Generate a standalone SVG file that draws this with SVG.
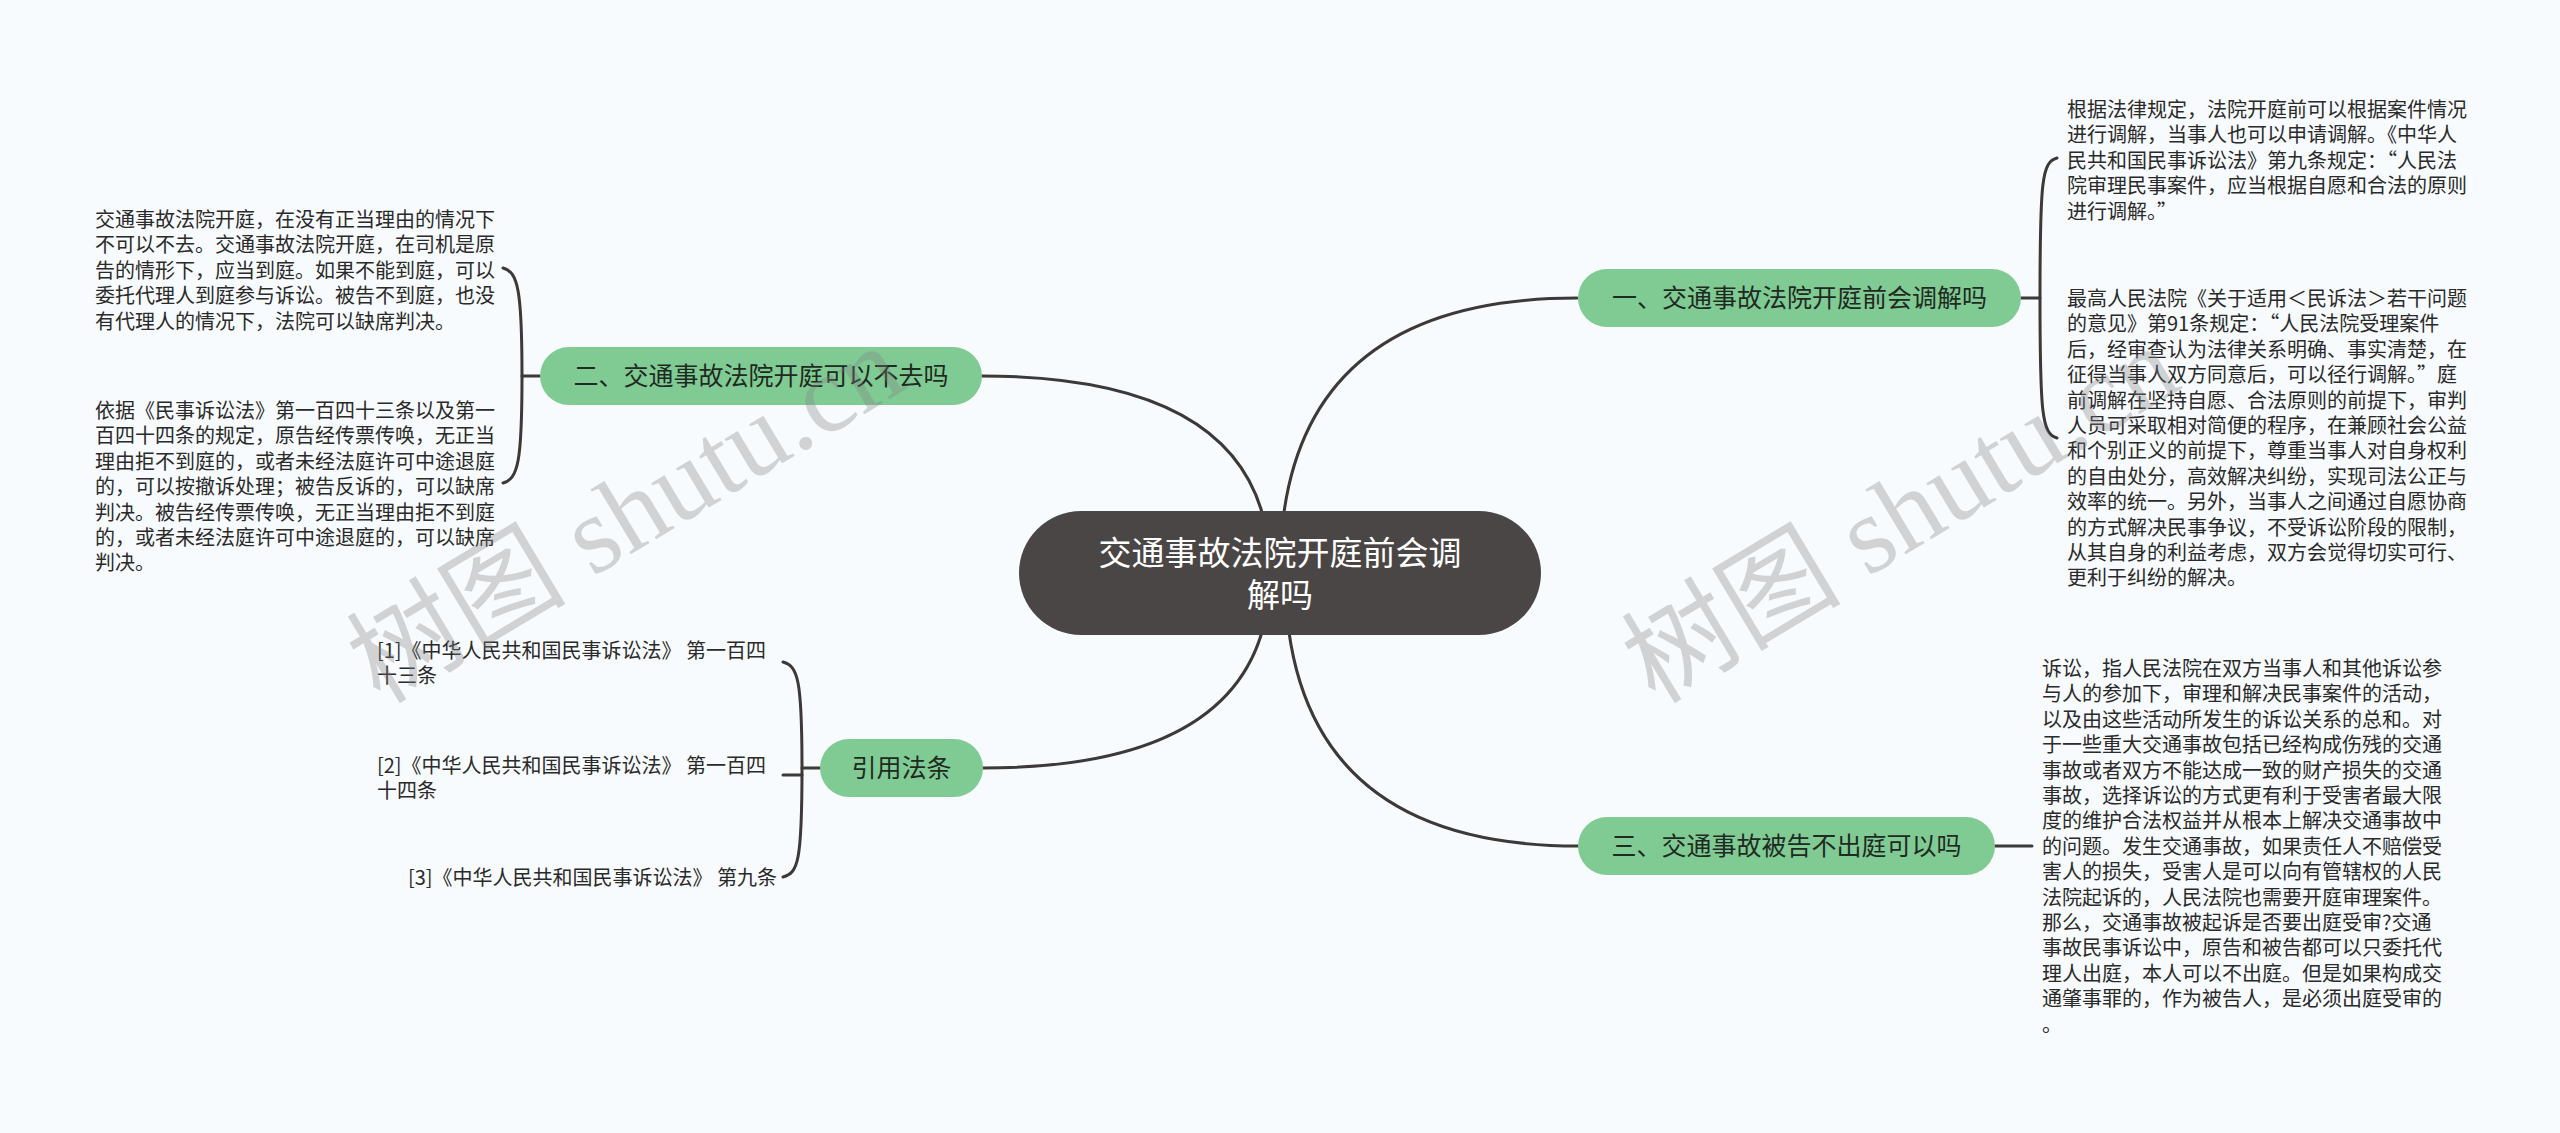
<svg xmlns="http://www.w3.org/2000/svg" width="2560" height="1133" viewBox="0 0 2560 1133">
<style>
.bg{fill:#f8fbfd}
.root{fill:#4b4646}
.rootText{fill:#ffffff;font-family:"Noto Sans CJK SC","Noto Sans",sans-serif;font-size:33px;text-anchor:middle}
.branch{fill:#80cb94}
.branchText{fill:#1f2a22;font-family:"Noto Sans CJK SC","Noto Sans",sans-serif;font-size:25px;text-anchor:middle}
.leaf{fill:#2a2a2a;font-family:"Noto Sans CJK SC","Noto Sans",sans-serif;font-size:20px}
.link{fill:none;stroke:#3d3939;stroke-width:3;stroke-linecap:round}
.wm{fill:#808080;fill-opacity:0.33;font-size:110px}
</style>
<rect class="bg" x="0" y="0" width="2560" height="1133"/>
<g id="connectors">
<path class="link" d="M1280 572 Q1280 298 1577 298"/>
<path class="link" d="M1270 572 Q1270 376 981 376"/>
<path class="link" d="M1270 572 Q1270 768 983 768"/>
<path class="link" d="M1285 572 Q1285 846 1578 846"/>
<path class="link" d="M2021 298 L2040 298"/>
<path class="link" d="M2057 158 C2042 162 2040 180 2040 298 C2040 414 2042 434 2057 438"/>
<path class="link" d="M1995 846 L2032 846"/>
<path class="link" d="M540 376 L522 376"/>
<path class="link" d="M503 268 C518 272 522 290 522 376 C522 462 518 479 503 483"/>
<path class="link" d="M820 768 L802 768"/>
<path class="link" d="M783 662 C798 666 802 680 802 768 C802 862 798 873 783 877"/>
<path class="link" d="M802 775 L783 775"/>
</g>
<g id="root">
<rect class="root" x="1019" y="511" width="522" height="124" rx="62"/>
<text class="rootText" x="1280" y="565">交通事故法院开庭前会调</text>
<text class="rootText" x="1280" y="607">解吗</text>
</g>
<g id="b1">
<rect class="branch" x="1578" y="269" width="443" height="58" rx="29"/>
<text class="branchText" x="1799.5" y="307">一、交通事故法院开庭前会调解吗</text>
</g>
<g id="b2">
<rect class="branch" x="540" y="347" width="442" height="58" rx="29"/>
<text class="branchText" x="761" y="385">二、交通事故法院开庭可以不去吗</text>
</g>
<g id="b3">
<rect class="branch" x="1578" y="817" width="417" height="58" rx="29"/>
<text class="branchText" x="1786.5" y="855">三、交通事故被告不出庭可以吗</text>
</g>
<g id="b4">
<rect class="branch" x="820" y="739" width="163" height="58" rx="29"/>
<text class="branchText" x="901.5" y="777">引用法条</text>
</g>
<g id="leaf1a">
<text class="leaf">
<tspan x="2067" y="117">根据法律规定，法院开庭前可以根据案件情况</tspan>
<tspan x="2067" y="142.4">进行调解，当事人也可以申请调解。《中华人</tspan>
<tspan x="2067" y="167.8">民共和国民事诉讼法》第九条规定：“人民法</tspan>
<tspan x="2067" y="193.2">院审理民事案件，应当根据自愿和合法的原则</tspan>
<tspan x="2067" y="218.6">进行调解。”</tspan>
</text>
</g>
<g id="leaf1b">
<text class="leaf">
<tspan x="2067" y="306">最高人民法院《关于适用＜民诉法＞若干问题</tspan>
<tspan x="2067" y="331.4">的意见》第91条规定：“人民法院受理案件</tspan>
<tspan x="2067" y="356.8">后，经审查认为法律关系明确、事实清楚，在</tspan>
<tspan x="2067" y="382.2">征得当事人双方同意后，可以径行调解。”庭</tspan>
<tspan x="2067" y="407.6">前调解在坚持自愿、合法原则的前提下，审判</tspan>
<tspan x="2067" y="433">人员可采取相对简便的程序，在兼顾社会公益</tspan>
<tspan x="2067" y="458.4">和个别正义的前提下，尊重当事人对自身权利</tspan>
<tspan x="2067" y="483.8">的自由处分，高效解决纠纷，实现司法公正与</tspan>
<tspan x="2067" y="509.2">效率的统一。另外，当事人之间通过自愿协商</tspan>
<tspan x="2067" y="534.6">的方式解决民事争议，不受诉讼阶段的限制，</tspan>
<tspan x="2067" y="560">从其自身的利益考虑，双方会觉得切实可行、</tspan>
<tspan x="2067" y="585.4">更利于纠纷的解决。</tspan>
</text>
</g>
<g id="leaf3">
<text class="leaf">
<tspan x="2042" y="676">诉讼，指人民法院在双方当事人和其他诉讼参</tspan>
<tspan x="2042" y="701.4">与人的参加下，审理和解决民事案件的活动，</tspan>
<tspan x="2042" y="726.8">以及由这些活动所发生的诉讼关系的总和。对</tspan>
<tspan x="2042" y="752.2">于一些重大交通事故包括已经构成伤残的交通</tspan>
<tspan x="2042" y="777.6">事故或者双方不能达成一致的财产损失的交通</tspan>
<tspan x="2042" y="803">事故，选择诉讼的方式更有利于受害者最大限</tspan>
<tspan x="2042" y="828.4">度的维护合法权益并从根本上解决交通事故中</tspan>
<tspan x="2042" y="853.8">的问题。发生交通事故，如果责任人不赔偿受</tspan>
<tspan x="2042" y="879.2">害人的损失，受害人是可以向有管辖权的人民</tspan>
<tspan x="2042" y="904.6">法院起诉的，人民法院也需要开庭审理案件。</tspan>
<tspan x="2042" y="930">那么，交通事故被起诉是否要出庭受审?交通</tspan>
<tspan x="2042" y="955.4">事故民事诉讼中，原告和被告都可以只委托代</tspan>
<tspan x="2042" y="980.8">理人出庭，本人可以不出庭。但是如果构成交</tspan>
<tspan x="2042" y="1006.2">通肇事罪的，作为被告人，是必须出庭受审的</tspan>
<tspan x="2042" y="1031.6">。</tspan>
</text>
</g>
<g id="leaf2a">
<text class="leaf">
<tspan x="95" y="227">交通事故法院开庭，在没有正当理由的情况下</tspan>
<tspan x="95" y="252.4">不可以不去。交通事故法院开庭，在司机是原</tspan>
<tspan x="95" y="277.8">告的情形下，应当到庭。如果不能到庭，可以</tspan>
<tspan x="95" y="303.2">委托代理人到庭参与诉讼。被告不到庭，也没</tspan>
<tspan x="95" y="328.6">有代理人的情况下，法院可以缺席判决。</tspan>
</text>
</g>
<g id="leaf2b">
<text class="leaf">
<tspan x="95" y="418">依据《民事诉讼法》第一百四十三条以及第一</tspan>
<tspan x="95" y="443.4">百四十四条的规定，原告经传票传唤，无正当</tspan>
<tspan x="95" y="468.8">理由拒不到庭的，或者未经法庭许可中途退庭</tspan>
<tspan x="95" y="494.2">的，可以按撤诉处理；被告反诉的，可以缺席</tspan>
<tspan x="95" y="519.6">判决。被告经传票传唤，无正当理由拒不到庭</tspan>
<tspan x="95" y="545">的，或者未经法庭许可中途退庭的，可以缺席</tspan>
<tspan x="95" y="570.4">判决。</tspan>
</text>
</g>
<g id="ref1">
<text class="leaf">
<tspan x="377" y="657.6">[1]《中华人民共和国民事诉讼法》 第一百四</tspan>
<tspan x="377" y="683">十三条</tspan>
</text>
</g>
<g id="ref2">
<text class="leaf">
<tspan x="377" y="772.6">[2]《中华人民共和国民事诉讼法》 第一百四</tspan>
<tspan x="377" y="798">十四条</tspan>
</text>
</g>
<g id="ref3">
<text class="leaf" x="408" y="884.6">[3]《中华人民共和国民事诉讼法》 第九条</text>
</g>
<g id="watermarks">
<text class="wm" transform="translate(380 705) rotate(-31)"><tspan font-family="Noto Sans CJK SC,sans-serif">树图</tspan><tspan font-family="Liberation Serif,serif"> shutu.cn</tspan></text>
<text class="wm" transform="translate(1655 705) rotate(-31)"><tspan font-family="Noto Sans CJK SC,sans-serif">树图</tspan><tspan font-family="Liberation Serif,serif"> shutu.cn</tspan></text>
</g>
</svg>
